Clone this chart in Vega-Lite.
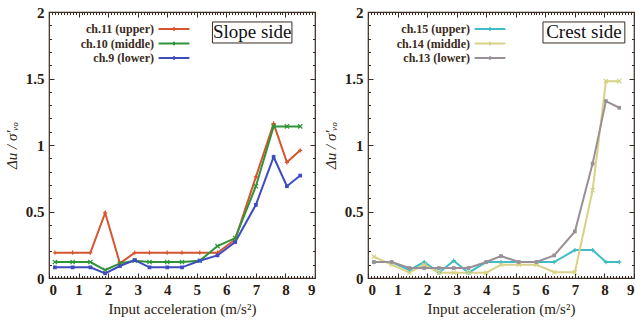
{
  "$schema": "https://vega.github.io/schema/vega-lite/v6.json",
  "padding": {"left": 3, "top": 4, "right": 0, "bottom": 0},
  "spacing": 5,
  "background": "white",
  "config": {
    "font": "Liberation Serif",
    "view": {"stroke": "#3a2a20", "strokeWidth": 1.2},
    "axis": {"domain": false, "grid": false, "tickColor": "#3a2a20", "labelColor": "#2a1a10", "titleColor": "#2a1a10", "labelFont": "Liberation Serif", "titleFont": "Liberation Serif", "labelFontSize": 15, "titleFontSize": 15, "labelFontWeight": "bold", "titleFontWeight": "normal"},
    "legend": {"orient": "none", "padding": 0, "title": null, "labelFont": "Liberation Serif", "labelFontSize": 12, "labelFontWeight": "bold", "labelColor": "#3a2a20", "labelAlign": "right", "labelOffset": -28, "symbolStrokeWidth": 2, "rowPadding": 0.5}
  },
  "datasets": {
    "slope": [
      {"series": "ch.11  (upper)", "x": 0.2, "y": 0.19}, {"series": "ch.11  (upper)", "x": 0.8, "y": 0.19}, {"series": "ch.11  (upper)", "x": 1.4, "y": 0.19}, {"series": "ch.11  (upper)", "x": 1.9, "y": 0.49}, {"series": "ch.11  (upper)", "x": 2.4, "y": 0.11}, {"series": "ch.11  (upper)", "x": 2.9, "y": 0.19}, {"series": "ch.11  (upper)", "x": 3.4, "y": 0.19}, {"series": "ch.11  (upper)", "x": 4.0, "y": 0.19}, {"series": "ch.11  (upper)", "x": 4.5, "y": 0.19}, {"series": "ch.11  (upper)", "x": 5.1, "y": 0.19}, {"series": "ch.11  (upper)", "x": 5.7, "y": 0.19}, {"series": "ch.11  (upper)", "x": 6.3, "y": 0.29}, {"series": "ch.11  (upper)", "x": 7.0, "y": 0.76}, {"series": "ch.11  (upper)", "x": 7.6, "y": 1.16}, {"series": "ch.11  (upper)", "x": 8.05, "y": 0.87}, {"series": "ch.11  (upper)", "x": 8.5, "y": 0.96},
      {"series": "ch.10 (middle)", "x": 0.2, "y": 0.12}, {"series": "ch.10 (middle)", "x": 0.8, "y": 0.12}, {"series": "ch.10 (middle)", "x": 1.4, "y": 0.12}, {"series": "ch.10 (middle)", "x": 1.9, "y": 0.06}, {"series": "ch.10 (middle)", "x": 2.4, "y": 0.11}, {"series": "ch.10 (middle)", "x": 2.9, "y": 0.13}, {"series": "ch.10 (middle)", "x": 3.4, "y": 0.12}, {"series": "ch.10 (middle)", "x": 4.0, "y": 0.12}, {"series": "ch.10 (middle)", "x": 4.5, "y": 0.12}, {"series": "ch.10 (middle)", "x": 5.1, "y": 0.13}, {"series": "ch.10 (middle)", "x": 5.7, "y": 0.24}, {"series": "ch.10 (middle)", "x": 6.3, "y": 0.30}, {"series": "ch.10 (middle)", "x": 7.0, "y": 0.69}, {"series": "ch.10 (middle)", "x": 7.6, "y": 1.14}, {"series": "ch.10 (middle)", "x": 8.05, "y": 1.14}, {"series": "ch.10 (middle)", "x": 8.5, "y": 1.14},
      {"series": "ch.9  (lower)", "x": 0.2, "y": 0.08}, {"series": "ch.9  (lower)", "x": 0.8, "y": 0.08}, {"series": "ch.9  (lower)", "x": 1.4, "y": 0.08}, {"series": "ch.9  (lower)", "x": 1.9, "y": 0.035}, {"series": "ch.9  (lower)", "x": 2.4, "y": 0.09}, {"series": "ch.9  (lower)", "x": 2.9, "y": 0.135}, {"series": "ch.9  (lower)", "x": 3.4, "y": 0.08}, {"series": "ch.9  (lower)", "x": 4.0, "y": 0.08}, {"series": "ch.9  (lower)", "x": 4.5, "y": 0.08}, {"series": "ch.9  (lower)", "x": 5.1, "y": 0.13}, {"series": "ch.9  (lower)", "x": 5.7, "y": 0.17}, {"series": "ch.9  (lower)", "x": 6.3, "y": 0.27}, {"series": "ch.9  (lower)", "x": 7.0, "y": 0.55}, {"series": "ch.9  (lower)", "x": 7.6, "y": 0.91}, {"series": "ch.9  (lower)", "x": 8.05, "y": 0.69}, {"series": "ch.9  (lower)", "x": 8.5, "y": 0.77}
    ],
    "crest": [
      {"series": "ch.15  (upper)", "x": 0.2, "y": 0.12}, {"series": "ch.15  (upper)", "x": 0.8, "y": 0.12}, {"series": "ch.15  (upper)", "x": 1.4, "y": 0.06}, {"series": "ch.15  (upper)", "x": 1.9, "y": 0.12}, {"series": "ch.15  (upper)", "x": 2.4, "y": 0.04}, {"series": "ch.15  (upper)", "x": 2.9, "y": 0.13}, {"series": "ch.15  (upper)", "x": 3.4, "y": 0.04}, {"series": "ch.15  (upper)", "x": 4.0, "y": 0.12}, {"series": "ch.15  (upper)", "x": 4.5, "y": 0.12}, {"series": "ch.15  (upper)", "x": 5.1, "y": 0.12}, {"series": "ch.15  (upper)", "x": 5.7, "y": 0.12}, {"series": "ch.15  (upper)", "x": 6.3, "y": 0.12}, {"series": "ch.15  (upper)", "x": 7.0, "y": 0.21}, {"series": "ch.15  (upper)", "x": 7.6, "y": 0.21}, {"series": "ch.15  (upper)", "x": 8.05, "y": 0.12}, {"series": "ch.15  (upper)", "x": 8.5, "y": 0.12},
      {"series": "ch.14 (middle)", "x": 0.2, "y": 0.16}, {"series": "ch.14 (middle)", "x": 0.8, "y": 0.10}, {"series": "ch.14 (middle)", "x": 1.4, "y": 0.04}, {"series": "ch.14 (middle)", "x": 1.9, "y": 0.10}, {"series": "ch.14 (middle)", "x": 2.4, "y": 0.04}, {"series": "ch.14 (middle)", "x": 2.9, "y": 0.04}, {"series": "ch.14 (middle)", "x": 3.4, "y": 0.04}, {"series": "ch.14 (middle)", "x": 4.0, "y": 0.04}, {"series": "ch.14 (middle)", "x": 4.5, "y": 0.10}, {"series": "ch.14 (middle)", "x": 5.1, "y": 0.10}, {"series": "ch.14 (middle)", "x": 5.7, "y": 0.10}, {"series": "ch.14 (middle)", "x": 6.3, "y": 0.043}, {"series": "ch.14 (middle)", "x": 7.0, "y": 0.043}, {"series": "ch.14 (middle)", "x": 7.6, "y": 0.66}, {"series": "ch.14 (middle)", "x": 8.05, "y": 1.48}, {"series": "ch.14 (middle)", "x": 8.5, "y": 1.48},
      {"series": "ch.13  (lower)", "x": 0.2, "y": 0.12}, {"series": "ch.13  (lower)", "x": 0.8, "y": 0.12}, {"series": "ch.13  (lower)", "x": 1.4, "y": 0.075}, {"series": "ch.13  (lower)", "x": 1.9, "y": 0.075}, {"series": "ch.13  (lower)", "x": 2.4, "y": 0.075}, {"series": "ch.13  (lower)", "x": 2.9, "y": 0.075}, {"series": "ch.13  (lower)", "x": 3.4, "y": 0.075}, {"series": "ch.13  (lower)", "x": 4.0, "y": 0.12}, {"series": "ch.13  (lower)", "x": 4.5, "y": 0.165}, {"series": "ch.13  (lower)", "x": 5.1, "y": 0.12}, {"series": "ch.13  (lower)", "x": 5.7, "y": 0.12}, {"series": "ch.13  (lower)", "x": 6.3, "y": 0.17}, {"series": "ch.13  (lower)", "x": 7.0, "y": 0.35}, {"series": "ch.13  (lower)", "x": 7.6, "y": 0.86}, {"series": "ch.13  (lower)", "x": 8.05, "y": 1.33}, {"series": "ch.13  (lower)", "x": 8.5, "y": 1.28}
    ]
  },
  "hconcat": [
    {
      "width": 266, "height": 266,
      "data": {"name": "slope"},
      "layer": [
        {
          "mark": {"type": "line", "strokeWidth": 2},
          "encoding": {
            "x": {"field": "x", "type": "quantitative", "scale": {"domain": [0, 9], "nice": false}, "axis": {"orient": "bottom", "title": "Input acceleration (m/s²)", "values": [0,1,2,3,4,5,6,7,8,9], "tickSize": -5, "labelPadding": 9, "titlePadding": 4}},
            "y": {"field": "y", "type": "quantitative", "scale": {"domain": [0, 2], "nice": false}, "axis": {"orient": "left", "title": "Δu / σ'ᵥₒ", "titleFontStyle": "italic", "values": [0, 0.5, 1, 1.5, 2], "format": "~g", "tickSize": -5, "labelPadding": 10, "titlePadding": 6}},
            "color": {"field": "series", "type": "nominal", "sort": null, "scale": {"domain": ["ch.11  (upper)", "ch.10 (middle)", "ch.9  (lower)"], "range": ["#d4552e", "#2f9438", "#3f4cc0"]}, "legend": {"orient": "none", "legendX": 117, "legendY": 9, "symbolType": "M-2.2,0L2.2,0M0,-0.25L0,0.25", "symbolSize": 196, "symbolStrokeWidth": 2}}
          }
        },
        {
          "transform": [{"filter": {"field": "series", "equal": "ch.11  (upper)"}}],
          "mark": {"type": "point", "filled": false, "size": 18, "strokeWidth": 1.2, "opacity": 1, "shape": "M-1,0L1,0M0,-1L0,1"},
          "encoding": {
            "x": {"field": "x", "type": "quantitative", "axis": {"orient": "top", "title": null, "labels": false, "values": [0,1,2,3,4,5,6,7,8,9], "tickSize": -5}},
            "y": {"field": "y", "type": "quantitative", "axis": {"orient": "right", "title": null, "labels": false, "values": [0, 0.5, 1, 1.5, 2], "tickSize": -5}},
            "color": {"field": "series", "type": "nominal"}
          }
        },
        {
          "transform": [{"filter": {"field": "series", "equal": "ch.10 (middle)"}}],
          "mark": {"type": "point", "filled": false, "size": 18, "strokeWidth": 1.2, "opacity": 1, "shape": "M-1,-1L1,1M-1,1L1,-1"},
          "encoding": {
            "x": {"field": "x", "type": "quantitative", "axis": {"orient": "bottom", "title": null, "labels": false, "tickSize": -2.5, "values": [0.1,0.2,0.3,0.4,0.5,0.6,0.7,0.8,0.9,1.1,1.2,1.3,1.4,1.5,1.6,1.7,1.8,1.9,2.1,2.2,2.3,2.4,2.5,2.6,2.7,2.8,2.9,3.1,3.2,3.3,3.4,3.5,3.6,3.7,3.8,3.9,4.1,4.2,4.3,4.4,4.5,4.6,4.7,4.8,4.9,5.1,5.2,5.3,5.4,5.5,5.6,5.7,5.8,5.9,6.1,6.2,6.3,6.4,6.5,6.6,6.7,6.8,6.9,7.1,7.2,7.3,7.4,7.5,7.6,7.7,7.8,7.9,8.1,8.2,8.3,8.4,8.5,8.6,8.7,8.8,8.9]}},
            "y": {"field": "y", "type": "quantitative", "axis": {"orient": "left", "title": null, "labels": false, "tickSize": -2.5, "values": [0.1,0.2,0.3,0.4,0.6,0.7,0.8,0.9,1.1,1.2,1.3,1.4,1.6,1.7,1.8,1.9]}},
            "color": {"field": "series", "type": "nominal"}
          }
        },
        {
          "transform": [{"filter": {"field": "series", "equal": "ch.9  (lower)"}}],
          "mark": {"type": "point", "filled": true, "size": 14, "opacity": 1, "shape": "square"},
          "encoding": {
            "x": {"field": "x", "type": "quantitative", "axis": {"orient": "top", "title": null, "labels": false, "tickSize": -2.5, "values": [0.1,0.2,0.3,0.4,0.5,0.6,0.7,0.8,0.9,1.1,1.2,1.3,1.4,1.5,1.6,1.7,1.8,1.9,2.1,2.2,2.3,2.4,2.5,2.6,2.7,2.8,2.9,3.1,3.2,3.3,3.4,3.5,3.6,3.7,3.8,3.9,4.1,4.2,4.3,4.4,4.5,4.6,4.7,4.8,4.9,5.1,5.2,5.3,5.4,5.5,5.6,5.7,5.8,5.9,6.1,6.2,6.3,6.4,6.5,6.6,6.7,6.8,6.9,7.1,7.2,7.3,7.4,7.5,7.6,7.7,7.8,7.9,8.1,8.2,8.3,8.4,8.5,8.6,8.7,8.8,8.9]}},
            "y": {"field": "y", "type": "quantitative", "axis": {"orient": "right", "title": null, "labels": false, "tickSize": -2.5, "values": [0.1,0.2,0.3,0.4,0.6,0.7,0.8,0.9,1.1,1.2,1.3,1.4,1.6,1.7,1.8,1.9]}},
            "color": {"field": "series", "type": "nominal"}
          }
        },
        {
          "data": {"values": [{"label": "Slope side"}]},
          "mark": {"type": "rect", "fill": "white", "stroke": "#3a2a20", "strokeWidth": 1},
          "encoding": {
            "x": {"datum": 5.53, "type": "quantitative", "axis": null},
            "x2": {"datum": 8.22},
            "y": {"datum": 1.925, "type": "quantitative", "axis": null},
            "y2": {"datum": 1.767}
          }
        },
        {
          "data": {"values": [{"label": "Slope side"}]},
          "mark": {"type": "text", "font": "Liberation Serif", "fontSize": 19, "color": "#111111", "baseline": "middle", "align": "center"},
          "encoding": {
            "x": {"datum": 6.875, "type": "quantitative", "axis": null},
            "y": {"datum": 1.846, "type": "quantitative", "axis": null},
            "text": {"field": "label"}
          }
        }
      ],
      "resolve": {"axis": {"x": "independent", "y": "independent"}}
    },
    {
      "width": 266, "height": 266,
      "data": {"name": "crest"},
      "layer": [
        {
          "mark": {"type": "line", "strokeWidth": 2},
          "encoding": {
            "x": {"field": "x", "type": "quantitative", "scale": {"domain": [0, 9], "nice": false}, "axis": {"orient": "bottom", "title": "Input acceleration (m/s²)", "values": [0,1,2,3,4,5,6,7,8,9], "tickSize": -5, "labelPadding": 9, "titlePadding": 4}},
            "y": {"field": "y", "type": "quantitative", "scale": {"domain": [0, 2], "nice": false}, "axis": {"orient": "left", "title": "Δu / σ'ᵥₒ", "titleFontStyle": "italic", "values": [0, 0.5, 1, 1.5, 2], "format": "~g", "tickSize": -5, "labelPadding": 10, "titlePadding": 6}},
            "color": {"field": "series", "type": "nominal", "sort": null, "scale": {"domain": ["ch.15  (upper)", "ch.14 (middle)", "ch.13  (lower)"], "range": ["#3fbcc4", "#d8d286", "#9a8f97"]}, "legend": {"orient": "none", "legendX": 114, "legendY": 9, "symbolType": "M-2.2,0L2.2,0M0,-0.25L0,0.25", "symbolSize": 196, "symbolStrokeWidth": 2}}
          }
        },
        {
          "transform": [{"filter": {"field": "series", "equal": "ch.15  (upper)"}}],
          "mark": {"type": "point", "filled": false, "size": 18, "strokeWidth": 1.2, "opacity": 1, "shape": "M-1,0L1,0M0,-1L0,1"},
          "encoding": {
            "x": {"field": "x", "type": "quantitative", "axis": {"orient": "top", "title": null, "labels": false, "values": [0,1,2,3,4,5,6,7,8,9], "tickSize": -5}},
            "y": {"field": "y", "type": "quantitative", "axis": {"orient": "right", "title": null, "labels": false, "values": [0, 0.5, 1, 1.5, 2], "tickSize": -5}},
            "color": {"field": "series", "type": "nominal"}
          }
        },
        {
          "transform": [{"filter": {"field": "series", "equal": "ch.14 (middle)"}}],
          "mark": {"type": "point", "filled": false, "size": 18, "strokeWidth": 1.2, "opacity": 1, "shape": "M-1,-1L1,1M-1,1L1,-1"},
          "encoding": {
            "x": {"field": "x", "type": "quantitative", "axis": {"orient": "bottom", "title": null, "labels": false, "tickSize": -2.5, "values": [0.1,0.2,0.3,0.4,0.5,0.6,0.7,0.8,0.9,1.1,1.2,1.3,1.4,1.5,1.6,1.7,1.8,1.9,2.1,2.2,2.3,2.4,2.5,2.6,2.7,2.8,2.9,3.1,3.2,3.3,3.4,3.5,3.6,3.7,3.8,3.9,4.1,4.2,4.3,4.4,4.5,4.6,4.7,4.8,4.9,5.1,5.2,5.3,5.4,5.5,5.6,5.7,5.8,5.9,6.1,6.2,6.3,6.4,6.5,6.6,6.7,6.8,6.9,7.1,7.2,7.3,7.4,7.5,7.6,7.7,7.8,7.9,8.1,8.2,8.3,8.4,8.5,8.6,8.7,8.8,8.9]}},
            "y": {"field": "y", "type": "quantitative", "axis": {"orient": "left", "title": null, "labels": false, "tickSize": -2.5, "values": [0.1,0.2,0.3,0.4,0.6,0.7,0.8,0.9,1.1,1.2,1.3,1.4,1.6,1.7,1.8,1.9]}},
            "color": {"field": "series", "type": "nominal"}
          }
        },
        {
          "transform": [{"filter": {"field": "series", "equal": "ch.13  (lower)"}}],
          "mark": {"type": "point", "filled": true, "size": 14, "opacity": 1, "shape": "square"},
          "encoding": {
            "x": {"field": "x", "type": "quantitative", "axis": {"orient": "top", "title": null, "labels": false, "tickSize": -2.5, "values": [0.1,0.2,0.3,0.4,0.5,0.6,0.7,0.8,0.9,1.1,1.2,1.3,1.4,1.5,1.6,1.7,1.8,1.9,2.1,2.2,2.3,2.4,2.5,2.6,2.7,2.8,2.9,3.1,3.2,3.3,3.4,3.5,3.6,3.7,3.8,3.9,4.1,4.2,4.3,4.4,4.5,4.6,4.7,4.8,4.9,5.1,5.2,5.3,5.4,5.5,5.6,5.7,5.8,5.9,6.1,6.2,6.3,6.4,6.5,6.6,6.7,6.8,6.9,7.1,7.2,7.3,7.4,7.5,7.6,7.7,7.8,7.9,8.1,8.2,8.3,8.4,8.5,8.6,8.7,8.8,8.9]}},
            "y": {"field": "y", "type": "quantitative", "axis": {"orient": "right", "title": null, "labels": false, "tickSize": -2.5, "values": [0.1,0.2,0.3,0.4,0.6,0.7,0.8,0.9,1.1,1.2,1.3,1.4,1.6,1.7,1.8,1.9]}},
            "color": {"field": "series", "type": "nominal"}
          }
        },
        {
          "data": {"values": [{"label": "Crest side"}]},
          "mark": {"type": "rect", "fill": "white", "stroke": "#3a2a20", "strokeWidth": 1},
          "encoding": {
            "x": {"datum": 5.92, "type": "quantitative", "axis": null},
            "x2": {"datum": 8.69},
            "y": {"datum": 1.925, "type": "quantitative", "axis": null},
            "y2": {"datum": 1.767}
          }
        },
        {
          "data": {"values": [{"label": "Crest side"}]},
          "mark": {"type": "text", "font": "Liberation Serif", "fontSize": 19, "color": "#111111", "baseline": "middle", "align": "center"},
          "encoding": {
            "x": {"datum": 7.305, "type": "quantitative", "axis": null},
            "y": {"datum": 1.846, "type": "quantitative", "axis": null},
            "text": {"field": "label"}
          }
        }
      ],
      "resolve": {"axis": {"x": "independent", "y": "independent"}}
    }
  ],
  "resolve": {"scale": {"color": "independent"}}
}
